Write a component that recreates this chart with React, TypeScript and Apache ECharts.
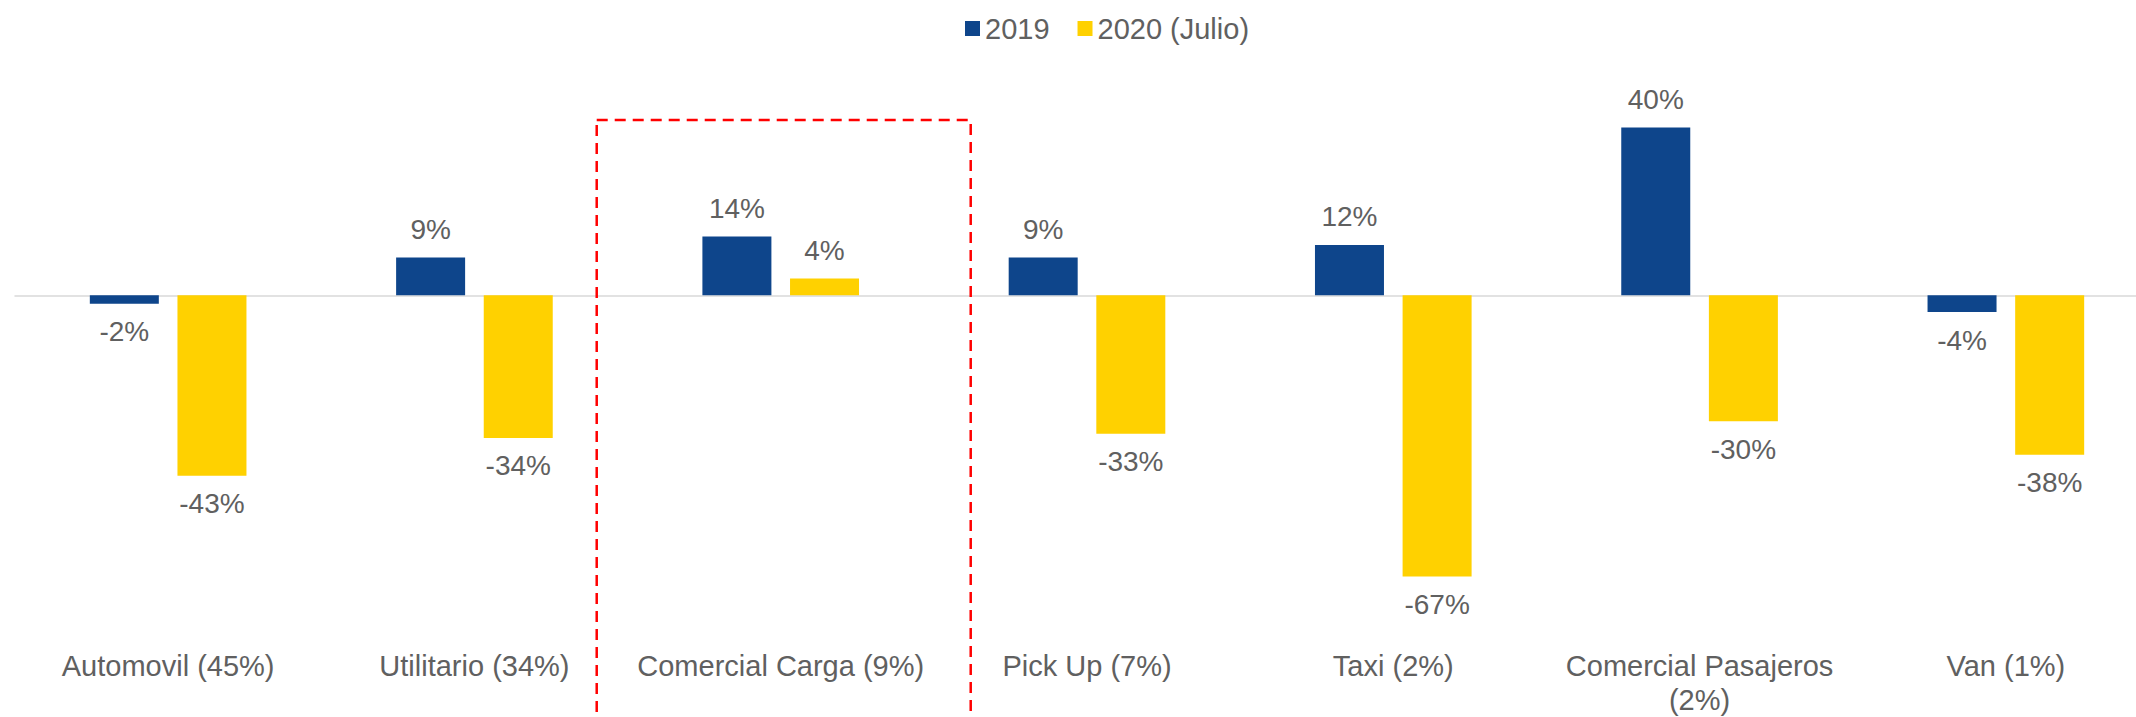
import React, { useEffect, useRef } from 'react';
import * as echarts from 'echarts';

const categories = [
  'Automovil (45%)',
  'Utilitario (34%)',
  'Comercial Carga (9%)',
  'Pick Up (7%)',
  'Taxi (2%)',
  'Comercial Pasajeros (2%)',
  'Van (1%)',
];
const seriesNames = ['2019', '2020 (Julio)'];
const values2019 = [-2, 9, 14, 9, 12, 40, -4];
const values2020 = [-43, -34, 4, -33, -67, -30, -38];
const highlightedCategory = 'Comercial Carga (9%)';

const FONT = "Arial, 'Liberation Sans', sans-serif";
const GRAY = '#606060';
const BLUE = '#0E458B';
const YELLOW = '#FFD100';

export default function App() {
  const ref = useRef<HTMLDivElement>(null);

  useEffect(() => {
    const el = ref.current as HTMLDivElement;
    const chart = echarts.init(el, null, { renderer: 'svg' });

    const dataLabel = {
      show: true,
      position: 'outside',
      distance: 14,
      fontSize: 28,
      color: GRAY,
      fontFamily: FONT,
      formatter: (p: any) => `${p.value}%`,
    };

    chart.setOption({
      animation: false,
      textStyle: { fontFamily: FONT },
      legend: {
        data: seriesNames,
        left: 965,
        top: 14,
        padding: 0,
        itemWidth: 15,
        itemHeight: 15,
        itemGap: 28,
        icon: 'rect',
        textStyle: { fontSize: 29, color: GRAY, fontFamily: FONT },
      },
      grid: { left: 15, top: 85.5, width: 2144, height: 546, containLabel: false },
      xAxis: [
        {
          type: 'category',
          data: categories,
          axisLine: { onZero: true, lineStyle: { color: '#D9D9D9', width: 1.5 } },
          axisTick: { show: false },
          axisLabel: { show: false },
        },
        {
          type: 'category',
          data: categories,
          position: 'bottom',
          axisLine: { show: false, onZero: false },
          axisTick: { show: false },
          axisLabel: {
            interval: 0,
            margin: 18,
            lineHeight: 34,
            fontSize: 29,
            color: GRAY,
            fontFamily: FONT,
            formatter: (v: string) => {
              if (v.length > 20) {
                const i = v.lastIndexOf(' ');
                return v.slice(0, i) + '\n' + v.slice(i + 1);
              }
              return v;
            },
          },
        },
      ],
      yAxis: { type: 'value', min: -80, max: 50, show: false },
      series: [
        {
          name: seriesNames[0],
          type: 'bar',
          data: values2019,
          barWidth: 69,
          barGap: '27%',
          itemStyle: { color: BLUE },
          label: dataLabel,
        },
        {
          name: seriesNames[1],
          type: 'bar',
          data: values2020,
          barWidth: 69,
          barGap: '27%',
          itemStyle: { color: YELLOW },
          label: dataLabel,
        },
      ],
    });

    const cx = chart.convertToPixel({ xAxisIndex: 0 } as any, highlightedCategory) as number;
    chart.setOption({
      graphic: [
        {
          type: 'rect',
          silent: true,
          z: 10,
          shape: { x: cx - 184, y: 120, width: 374, height: 660 },
          style: { fill: 'none', stroke: '#FF0000', lineWidth: 2.5, lineDash: [11, 7] },
        },
      ],
    });

    return () => {
      chart.dispose();
    };
  }, []);

  return (
    <div
      style={{
        position: 'absolute',
        left: 0,
        top: 0,
        width: 2136,
        height: 717,
        overflow: 'hidden',
        background: '#fff',
      }}
    >
      <div ref={ref} style={{ width: 2162, height: 717 }} />
    </div>
  );
}
